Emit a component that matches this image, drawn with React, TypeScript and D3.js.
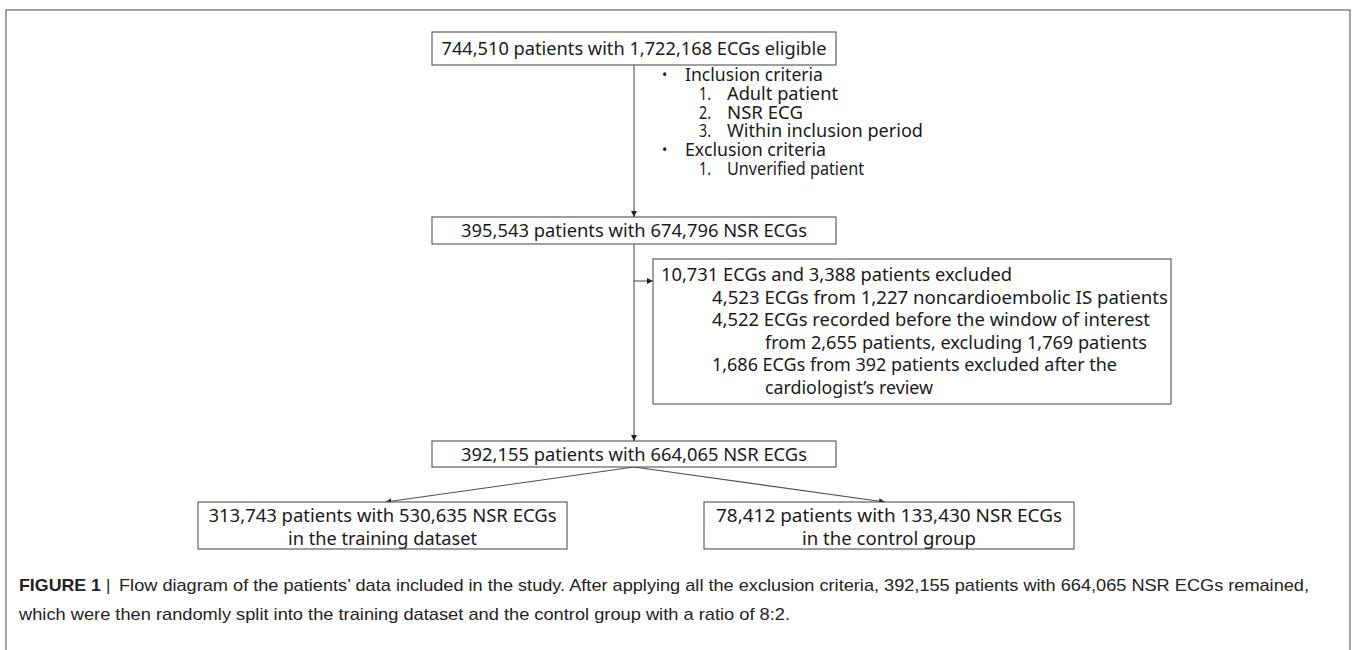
import React from "react";
import * as d3 from "d3";

// ---------- data ----------
const eligibleLines = ["744,510 patients with 1,722,168 ECGs eligible"];
const criteriaMarkers = ["•", "1.", "2.", "3.", "•", "1."];
const criteriaTexts = [
  "Inclusion criteria",
  "Adult patient",
  "NSR ECG",
  "Within inclusion period",
  "Exclusion criteria",
  "Unverified patient",
];
const criteriaLevels = [0, 1, 1, 1, 0, 1];
const nsrLines = ["395,543 patients with 674,796 NSR ECGs"];
const excludedLines = [
  "10,731 ECGs and 3,388 patients excluded",
  "4,523 ECGs from 1,227 noncardioembolic IS patients",
  "4,522 ECGs recorded before the window of interest",
  "from 2,655 patients, excluding 1,769 patients",
  "1,686 ECGs from 392 patients excluded after the",
  "cardiologist’s review",
];
const finalLines = ["392,155 patients with 664,065 NSR ECGs"];
const trainingLines = ["313,743 patients with 530,635 NSR ECGs", "in the training dataset"];
const controlLines = ["78,412 patients with 133,430 NSR ECGs", "in the control group"];
const captionBold = "FIGURE 1";
const captionLines = [
  "Flow diagram of the patients’ data included in the study. After applying all the exclusion criteria, 392,155 patients with 664,065 NSR ECGs remained,",
  "which were then randomly split into the training dataset and the control group with a ratio of 8:2.",
];

// ---------- layout ----------
const W = 1357;
const H = 650;
const FONT = "'Noto Sans', 'DejaVu Sans', sans-serif";
const CAP_FONT = "'Liberation Sans Narrow', 'Liberation Sans', Arial, sans-serif";
const STROKE = "#505050";
const FS = 18;

const boxes = {
  eligible: { x0: 432, x1: 836, y0: 32, y1: 65 },
  nsr: { x0: 432, x1: 836, y0: 217, y1: 244 },
  excluded: { x0: 653, x1: 1171, y0: 259, y1: 404 },
  final: { x0: 432, x1: 836, y0: 441, y1: 467 },
  training: { x0: 198, x1: 567, y0: 502, y1: 549 },
  control: { x0: 704, x1: 1074, y0: 502, y1: 549 },
};

const eligibleW = [385];
const nsrW = [346];
const excludedW = [351, 456, 438, 382, 405, 168];
const finalW = [346];
const trainingW = [348, 189];
const controlW = [346, 174];
const criteriaW = [138, 111, 76, 196, 141, 137];

const Line = ({ pts, arrow = true }: { pts: [number, number][]; arrow?: boolean }) => {
  const d = d3.line()(pts) || "";
  return <path d={d} fill="none" stroke={STROKE} strokeWidth={1.1} markerEnd={arrow ? "url(#ah)" : undefined} />;
};

const CenteredBox = ({ b, lines, widths, rowY }: any) => {
  const cx = (b.x0 + b.x1) / 2;
  return (
    <g>
      <rect x={b.x0} y={b.y0} width={b.x1 - b.x0} height={b.y1 - b.y0} fill="#fff" stroke={STROKE} strokeWidth={1.1} />
      {lines.map((t: string, i: number) => (
        <text
          key={i}
          x={cx}
          y={rowY[i]}
          textAnchor="middle"
          dominantBaseline="central"
          fontFamily={FONT}
          fontSize={FS}
          fill="#1a1a1a"
          textLength={widths[i]}
          lengthAdjust="spacingAndGlyphs"
        >
          {t}
        </text>
      ))}
    </g>
  );
};

export default function App() {
  const cx = (boxes.eligible.x0 + boxes.eligible.x1) / 2;
  const critY = d3.range(criteriaTexts.length).map((i) => 74 + i * 18.8);
  const exclY = d3.range(excludedLines.length).map((i) => 274 + i * 22.6);
  const exclX = [661, 712, 712, 765, 712, 765];
  const tcx = (boxes.training.x0 + boxes.training.x1) / 2;
  const ccx = (boxes.control.x0 + boxes.control.x1) / 2;

  return (
    <svg
      width={W}
      height={H}
      viewBox={`0 0 ${W} ${H}`}
      style={{ position: "absolute", left: 0, top: 0, background: "#fff" }}
    >
      <defs>
        <marker id="ah" viewBox="0 0 10 10" refX="10" refY="5" markerWidth="6" markerHeight="6" orient="auto" markerUnits="userSpaceOnUse">
          <path d="M0,0 L10,5 L0,10 z" fill="#222" />
        </marker>
      </defs>
      <rect x={0} y={0} width={W} height={H} fill="#fff" />
      {/* outer frame */}
      <rect x={6} y={10} width={1344} height={700} fill="none" stroke="#666" strokeWidth={1.2} />

      {/* connectors */}
      <Line pts={[[cx, boxes.eligible.y1], [cx, boxes.nsr.y0]]} />
      <Line pts={[[cx, boxes.nsr.y1], [cx, boxes.final.y0]]} />
      <Line pts={[[cx, 281], [boxes.excluded.x0, 281]]} />
      <Line pts={[[cx, boxes.final.y1], [tcx + 3, boxes.training.y0]]} />
      <Line pts={[[cx, boxes.final.y1], [ccx - 4, boxes.control.y0]]} />

      <CenteredBox b={boxes.eligible} lines={eligibleLines} widths={eligibleW} rowY={[48]} />
      <CenteredBox b={boxes.nsr} lines={nsrLines} widths={nsrW} rowY={[230]} />
      <CenteredBox b={boxes.final} lines={finalLines} widths={finalW} rowY={[454]} />
      <CenteredBox b={boxes.training} lines={trainingLines} widths={trainingW} rowY={[515, 538]} />
      <CenteredBox b={boxes.control} lines={controlLines} widths={controlW} rowY={[515, 538]} />

      {/* criteria list */}
      {criteriaTexts.map((t, i) => {
        const lvl = criteriaLevels[i];
        const mx = lvl === 0 ? 662 : 699;
        const tx = lvl === 0 ? 685 : 727;
        return (
          <g key={i}>
            <text x={mx} y={critY[i]} dominantBaseline="central" fontFamily={FONT} fontSize={lvl === 0 ? 14 : FS} fill="#1a1a1a" textLength={lvl === 0 ? undefined : 12} lengthAdjust="spacingAndGlyphs">
              {criteriaMarkers[i]}
            </text>
            <text
              x={tx}
              y={critY[i]}
              dominantBaseline="central"
              fontFamily={FONT}
              fontSize={FS}
              fill="#1a1a1a"
              textLength={criteriaW[i]}
              lengthAdjust="spacingAndGlyphs"
            >
              {t}
            </text>
          </g>
        );
      })}

      {/* exclusion box */}
      <rect
        x={boxes.excluded.x0}
        y={boxes.excluded.y0}
        width={boxes.excluded.x1 - boxes.excluded.x0}
        height={boxes.excluded.y1 - boxes.excluded.y0}
        fill="#fff"
        stroke={STROKE}
        strokeWidth={1.1}
      />
      {excludedLines.map((t, i) => (
        <text
          key={i}
          x={exclX[i]}
          y={exclY[i]}
          dominantBaseline="central"
          fontFamily={FONT}
          fontSize={FS}
          fill="#1a1a1a"
          textLength={excludedW[i]}
          lengthAdjust="spacingAndGlyphs"
        >
          {t}
        </text>
      ))}

      {/* caption */}
      <text x={19} y={591} fontFamily={CAP_FONT} fontSize={17} fontWeight="bold" fill="#222" textLength={82} lengthAdjust="spacingAndGlyphs">
        {captionBold}
      </text>
      <text x={106} y={591} fontFamily={CAP_FONT} fontSize={17} fill="#222">
        |
      </text>
      <text x={119} y={591} fontFamily={CAP_FONT} fontSize={17} fill="#222" textLength={1190} lengthAdjust="spacingAndGlyphs">
        {captionLines[0]}
      </text>
      <text x={19} y={620} fontFamily={CAP_FONT} fontSize={17} fill="#222" textLength={771} lengthAdjust="spacingAndGlyphs">
        {captionLines[1]}
      </text>
    </svg>
  );
}
